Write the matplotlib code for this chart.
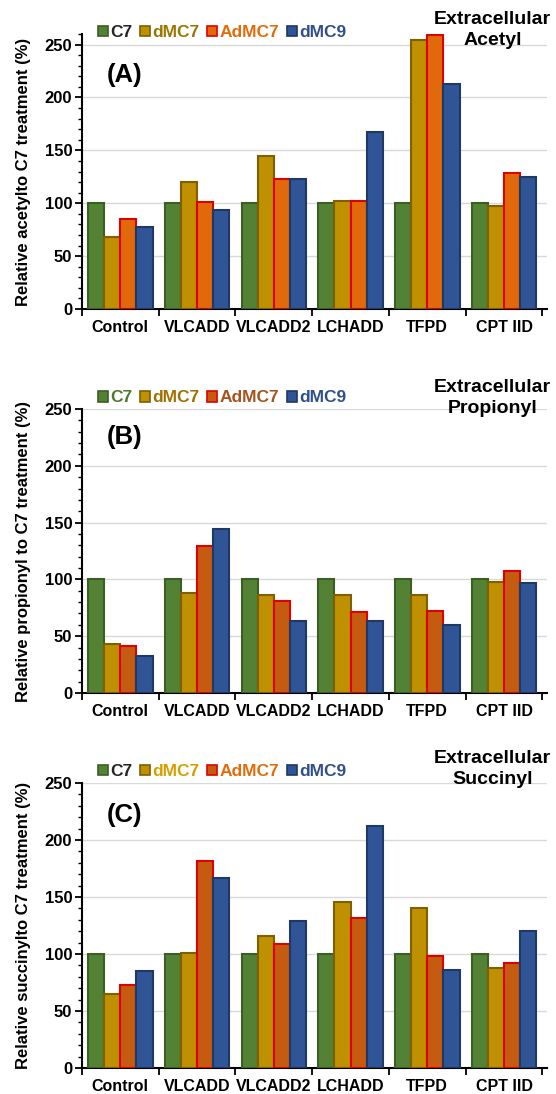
import numpy as np
import matplotlib
matplotlib.use("Agg")
import matplotlib.pyplot as plt
from matplotlib.patches import Patch
from matplotlib.ticker import MultipleLocator, FixedLocator

plt.rcParams['font.family'] = ['Liberation Sans', 'DejaVu Sans']
plt.rcParams['font.weight'] = 'bold'

categories = ['Control', 'VLCADD', 'VLCADD2', 'LCHADD', 'TFPD', 'CPT IID']
series = ['C7', 'dMC7', 'AdMC7', 'dMC9']

# (A) extracellular acetyl, % relative to C7
acetyl_c7 = [100, 100, 100, 100, 100, 100]
acetyl_dmc7 = [68, 120, 145, 102, 254, 97]
acetyl_admc7 = [85, 101, 123, 102, 259, 129]
acetyl_dmc9 = [78, 94, 123, 167, 213, 125]

# (B) extracellular propionyl
propionyl_c7 = [100, 100, 100, 100, 100, 100]
propionyl_dmc7 = [43, 88, 86, 86, 86, 98]
propionyl_admc7 = [41, 129, 81, 71, 72, 107]
propionyl_dmc9 = [33, 144, 63, 63, 60, 97]

# (C) extracellular succinyl
succinyl_c7 = [100, 100, 100, 100, 100, 100]
succinyl_dmc7 = [65, 101, 116, 146, 140, 88]
succinyl_admc7 = [73, 182, 109, 132, 98, 92]
succinyl_dmc9 = [85, 167, 129, 212, 86, 120]

W, H = 556, 1094
fig = plt.figure(figsize=(W / 100, H / 100), dpi=100)


def box(top, bottom, left=82, right=547):
    return [left / W, 1 - bottom / H, (right - left) / W, (bottom - top) / H]


panels = [
    dict(rect=box(34, 309), data=[acetyl_c7, acetyl_dmc7, acetyl_admc7, acetyl_dmc9],
         ymax=260, letter='(A)', letter_y=0.851, title='Extracellular\nAcetyl', title_y=1.013,
         ylabel='Relative acetylto C7 treatment (%)',
         orange='#E2680C', leg_colors=['#262626', '#9A7500', '#E36C09', '#2F4F8F'], leg_y=1.004),
    dict(rect=box(409, 693), data=[propionyl_c7, propionyl_dmc7, propionyl_admc7, propionyl_dmc9],
         ymax=250, letter='(B)', letter_y=0.90, title='Extracellular\nPropionyl', title_y=1.039,
         ylabel='Relative propionyl to C7 treatment (%)',
         orange='#C55A11', leg_colors=['#4E7A2C', '#A07000', '#A5541E', '#2F4F8F'], leg_y=1.039),
    dict(rect=box(783, 1068), data=[succinyl_c7, succinyl_dmc7, succinyl_admc7, succinyl_dmc9],
         ymax=250, letter='(C)', letter_y=0.888, title='Extracellular\nSuccinyl', title_y=1.049,
         ylabel='Relative succinylto C7 treatment (%)',
         orange='#C55A11', leg_colors=['#262626', '#D4A000', '#E36C09', '#2F4F8F'], leg_y=1.039),
]

x = np.arange(len(categories))
bw = 0.21

for p in panels:
    ax = fig.add_axes(p['rect'])
    faces = ['#548235', '#BF9000', p['orange'], '#2F5597']
    edges = ['#3B5E25', '#7F6000', '#E00000', '#1F3864']
    for i, vals in enumerate(p['data']):
        ax.bar(x + (i - 1.5) * bw, vals, bw, color=faces[i], edgecolor=edges[i],
               linewidth=1.5, zorder=3)

    ax.set_xlim(-0.5, 5.56)
    ax.set_ylim(0, p['ymax'])
    ax.yaxis.set_major_locator(FixedLocator([0, 50, 100, 150, 200, 250]))
    ax.yaxis.set_minor_locator(MultipleLocator(10))
    ax.grid(axis='y', color='#d9d9d9', linewidth=1, zorder=0)
    for s in ['top', 'right']:
        ax.spines[s].set_visible(False)
    for s in ['left', 'bottom']:
        ax.spines[s].set_linewidth(1.5)
    ax.set_xticks(x)
    ax.set_xticklabels(categories, fontsize=11.5, fontweight='bold')
    ax.set_xticks(np.arange(-0.5, 6, 1), minor=True)
    ax.tick_params(axis='x', which='major', length=0, pad=8)
    ax.tick_params(axis='x', which='minor', length=5, width=1.3, direction='out')
    ax.tick_params(axis='y', which='major', length=5, width=1.3, labelsize=12, pad=2)
    ax.tick_params(axis='y', which='minor', length=3, width=1)
    for t in ax.get_yticklabels():
        t.set_fontweight('bold')
    ax.set_ylabel(p['ylabel'], fontsize=12, fontweight='bold', labelpad=10)

    handles = [Patch(facecolor=faces[i], edgecolor=edges[i], linewidth=1.2) for i in range(4)]
    ax.legend(handles, series, loc='center left', bbox_to_anchor=(0.035, p['leg_y']),
              ncol=4, frameon=False, handlelength=0.55, handleheight=0.55,
              handletextpad=0.15, columnspacing=0.45, borderpad=0, borderaxespad=0,
              prop=dict(weight='bold', size=12.5), labelcolor=p['leg_colors'])

    ax.text(0.053, p['letter_y'], p['letter'], transform=ax.transAxes, fontsize=18.5,
            fontweight='bold', va='center', ha='left')
    ax.text(0.883, p['title_y'], p['title'], transform=ax.transAxes, fontsize=14,
            fontweight='bold', va='center', ha='center', linespacing=1.3)

fig.savefig('out.png', dpi=100)
